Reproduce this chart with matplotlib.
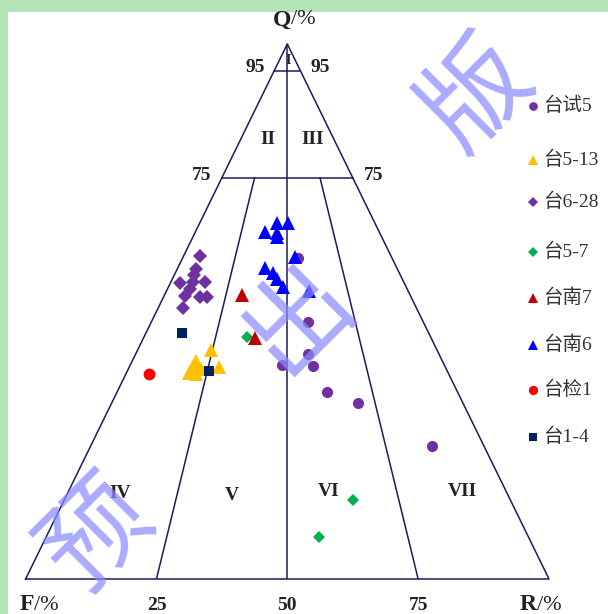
import matplotlib
matplotlib.use("Agg")
import matplotlib.pyplot as plt

# ---------------- data (Q, R in %, F = 100 - Q - R) ----------------
series_names = ["台试5", "台5-13", "台6-28", "台5-7", "台南7", "台南6", "台检1", "台1-4"]

tai_shi5_Q = [60.0, 48.0, 42.1, 39.8, 40.0, 35.0, 32.9, 24.9]
tai_shi5_R = [22.0, 30.0, 33.0, 35.0, 29.0, 40.1, 47.1, 65.2]

tai5_13_Q = [42.8, 40.7, 39.8, 38.5, 39.3, 39.6, 38.3]
tai5_13_R = [14.0, 12.2, 12.1, 11.9, 13.9, 17.2, 13.4]

tai6_28_Q = [60.4, 57.9, 56.8, 55.3, 55.5, 55.5, 54.2, 52.9, 52.7, 52.7, 50.7]
tai6_28_R = [3.1, 3.7, 3.8, 1.8, 4.2, 6.5, 4.3, 4.1, 6.9, 8.3, 4.8]

tai5_7_Q = [45.2, 14.8, 7.9]
tai5_7_R = [19.7, 55.2, 52.2]

tainan7_Q = [53.1, 45.0]
tainan7_R = [14.8, 21.3]

tainan6_Q = [64.9, 66.5, 66.5, 64.7, 63.9, 60.2, 58.1, 57.2, 56.1, 54.6, 53.8]
tainan6_R = [13.3, 14.7, 16.9, 15.7, 16.0, 21.4, 16.6, 18.7, 20.0, 21.9, 27.2]

taijian1_Q = [38.3]
taijian1_R = [4.4]

tai1_4_Q = [46.0, 38.9]
tai1_4_R = [6.9, 15.6]

boundary_Q = [95, 75]           # horizontal class boundaries
ratio_lines = [0.25, 0.5, 0.75]  # R/(F+R) dividing lines
base_ticks = ["25", "50", "75"]
roman = ["I", "II", "III", "IV", "V", "VI", "VII"]

# ---------------- helpers ----------------
def tern(Q, R):
    """ternary (Q,R) in % -> cartesian (base 0..1, height 0..1)"""
    xs = [r / 100.0 + q / 200.0 for q, r in zip(Q, R)]
    ys = [q / 100.0 for q in Q]
    return xs, ys

W, H = 608, 614
fig = plt.figure(figsize=(W / 100, H / 100), dpi=100)
fig.patch.set_facecolor("#b4e5b7")

bg = fig.add_axes([8 / W, 0, 1 - 8 / W, (H - 12) / H], zorder=-5)
bg.set_facecolor("white")
bg.set_xticks([]); bg.set_yticks([])
for s in bg.spines.values():
    s.set_visible(False)

ax = fig.add_axes([25.6 / W, (H - 579) / H, 523.4 / W, 535 / H], zorder=1)
ax.set_xlim(0, 1)
ax.set_ylim(0, 1)
ax.axis("off")

lc = "#1b1b5c"
lw = 1.1
# triangle outline
ax.plot([0, 1, 0.5, 0], [0, 0, 1, 0], color=lc, lw=lw, clip_on=False)
# horizontal boundaries
for q in boundary_Q:
    xs, ys = tern([q, q], [0, 100 - q])
    ax.plot(xs, ys, color=lc, lw=lw)
# centre line apex->base
ax.plot([0.5, 0.5], [0, 1], color=lc, lw=lw)
# side ratio lines from Q=75 to base
for r in (0.25, 0.75):
    qtop = 75.0
    xs, ys = tern([qtop, 0], [(100 - qtop) * r, 100 * r])
    ax.plot(xs, ys, color=lc, lw=lw)

serif = ["Liberation Serif", "DejaVu Serif"]
tc = "#222222"

# ---------------- labels ----------------
def px(xp, yp):
    return (xp - 25.6) / 523.4, (579 - yp) / 535

x, y = px(291, 20)
ax.text(x, y, "Q", ha="right", va="center", fontsize=17, fontweight="bold", family=serif, color=tc, clip_on=False)
ax.text(x, y, "/%", ha="left", va="center", fontsize=16, family=serif, color=tc, clip_on=False)
x, y = px(34, 605)
ax.text(x, y, "F", ha="right", va="center", fontsize=17, fontweight="bold", family=serif, color=tc, clip_on=False)
ax.text(x, y, "/%", ha="left", va="center", fontsize=16, family=serif, color=tc, clip_on=False)
x, y = px(537, 605)
ax.text(x, y, "R", ha="right", va="center", fontsize=17, fontweight="bold", family=serif, color=tc, clip_on=False)
ax.text(x, y, "/%", ha="left", va="center", fontsize=16, family=serif, color=tc, clip_on=False)

for lab, (xp, yp) in zip(["95", "95", "75", "75"], [(255, 68), (320, 68), (202, 176), (374, 176)]):
    x, y = px(xp, yp)
    ax.text(x, y, lab, ha="center", va="center", fontsize=14, fontweight="bold", family=serif, color=tc, clip_on=False)

for lab, r in zip(base_ticks, ratio_lines):
    ax.text(r, px(0, 605)[1], lab, ha="center", va="center", fontsize=14, fontweight="bold", family=serif, color=tc, clip_on=False)

roman_pos = [(288, 61), (268, 140), (313, 140), (120, 493), (232, 495), (329, 491), (462, 491)]
roman_size = [10, 14, 14, 14, 14, 14, 14]
for lab, (xp, yp), fs in zip(roman, roman_pos, roman_size):
    x, y = px(xp, yp)
    ax.text(x, y, lab, ha="center", va="center", fontsize=fs, fontweight="bold", family=serif, color=tc)

# ---------------- points ----------------
styles = [
    (tai_shi5_Q, tai_shi5_R, "o", "#7030a0", 8.0),
    (tai5_13_Q, tai5_13_R, "^", "#ffc000", 9.5),
    (tai6_28_Q, tai6_28_R, "D", "#7030a0", 7.0),
    (tai5_7_Q, tai5_7_R, "D", "#00b050", 6.5),
    (tainan7_Q, tainan7_R, "^", "#c00000", 9.5),
    (tainan6_Q, tainan6_R, "^", "#0000ff", 9.5),
    (taijian1_Q, taijian1_R, "o", "#ff0000", 8.5),
    (tai1_4_Q, tai1_4_R, "s", "#002060", 7.5),
]
for Q, R, m, c, ms in styles:
    xs, ys = tern(Q, R)
    ax.plot(xs, ys, linestyle="none", marker=m, color=c, markersize=ms, markeredgewidth=0, zorder=5)

# ---------------- legend (manual) ----------------
leg_rows = [106, 160, 202, 252, 298, 345, 390, 437]
for (Q, R, m, c, ms), name, yp in zip(styles, series_names, leg_rows):
    x, y = px(533, yp)
    ax.plot([x], [y], linestyle="none", marker=m, color=c, markersize=ms * 0.78,
            markeredgewidth=0, clip_on=False, zorder=5)
    x2, _ = px(543, yp)
    ax.text(x2, y, name, ha="left", va="center", fontsize=14,
            family=["Liberation Serif", "Noto Sans CJK SC"], color="#333333", clip_on=False)

# ---------------- watermark ----------------
wm_color = "#8a8aff"
for ch, (xp, yp) in zip("预出版", [(98, 535), (298, 318), (478, 95)]):
    x, y = px(xp, yp)
    ax.text(x, y, ch, ha="center", va="center", fontsize=76, rotation=45,
            family=["Noto Sans CJK SC"], fontweight="light", color=wm_color,
            alpha=0.72, zorder=10, clip_on=False)

fig.savefig("out.png", dpi=100, facecolor=fig.get_facecolor())
